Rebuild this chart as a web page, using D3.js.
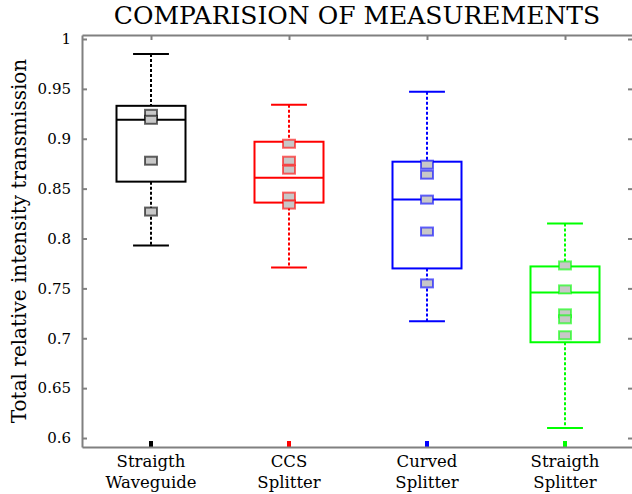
<!DOCTYPE html>
<html lang="en">
<head>
<meta charset="UTF-8">
<title>Comparision of measurements</title>
<script src="https://d3js.org/d3.v7.min.js"></script>
<style>
    body { margin: 0; background: #fff; }
    svg text { font-family: "DejaVu Serif", serif; fill: #000; }
    .axis path, .axis line { stroke: #808080; stroke-width: 2px; }
    .axis text { font-size: 15px; }
</style>
</head>
<body>
<svg width="632" height="494"></svg>
<script>
// categories and box statistics
const categories = [["Straigth", "Waveguide"], ["CCS", "Splitter"], ["Curved", "Splitter"], ["Straigth", "Splitter"]];
const colors = ["#000000", "#ff0000", "#0000ff", "#00ff00"];
const whiskerHigh = [0.985, 0.934, 0.947, 0.815];
const q3 = [0.933, 0.897, 0.877, 0.772];
const medians = [0.919, 0.861, 0.839, 0.746];
const q1 = [0.857, 0.836, 0.770, 0.696];
const whiskerLow = [0.793, 0.771, 0.717, 0.610];
const points = [
    [0.925, 0.919, 0.878, 0.827],
    [0.895, 0.878, 0.869, 0.842, 0.834],
    [0.874, 0.864, 0.839, 0.807, 0.755],
    [0.773, 0.749, 0.725, 0.719, 0.703]
];
const bottomMarks = [0.597, 0.597, 0.597, 0.597];
const yTicks = [0.6, 0.65, 0.7, 0.75, 0.8, 0.85, 0.9, 0.95, 1];

const svg = d3.select("svg");

const x = d3.scaleLinear().domain([0.5, 4.5]).range([82, 634]);
const y = d3.scaleLinear().domain([0.591, 1.004]).range([447, 35]);

const boxW = 0.5, capW = 0.26, ptW = 12, ptH = 8;
const idx = d3.range(categories.length);

const g = svg.append("g");
idx.forEach(i => {
    const cx = x(i + 1);
    const c = colors[i];
    // whiskers (dotted)
    g.append("line")
        .attr("x1", cx).attr("x2", cx)
        .attr("y1", y(whiskerHigh[i])).attr("y2", y(q3[i]))
        .attr("stroke", c).attr("stroke-width", 2).attr("stroke-dasharray", "3,2");
    g.append("line")
        .attr("x1", cx).attr("x2", cx)
        .attr("y1", y(q1[i])).attr("y2", y(whiskerLow[i]))
        .attr("stroke", c).attr("stroke-width", 2).attr("stroke-dasharray", "3,2");
    [whiskerHigh[i], whiskerLow[i]].forEach(v => {
        g.append("line")
            .attr("x1", x(i + 1 - capW / 2)).attr("x2", x(i + 1 + capW / 2))
            .attr("y1", y(v)).attr("y2", y(v))
            .attr("stroke", c).attr("stroke-width", 2);
    });
    // box
    g.append("rect")
        .attr("x", x(i + 1 - boxW / 2))
        .attr("y", y(q3[i]))
        .attr("width", x(i + 1 + boxW / 2) - x(i + 1 - boxW / 2))
        .attr("height", y(q1[i]) - y(q3[i]))
        .attr("fill", "none").attr("stroke", c).attr("stroke-width", 2);
    // median
    g.append("line")
        .attr("x1", x(i + 1 - boxW / 2)).attr("x2", x(i + 1 + boxW / 2))
        .attr("y1", y(medians[i])).attr("y2", y(medians[i]))
        .attr("stroke", c).attr("stroke-width", 2);
    // data points
    g.selectAll(null)
        .data(points[i])
      .enter().append("rect")
        .attr("x", cx - ptW / 2)
        .attr("y", d => y(d) - ptH / 2)
        .attr("width", ptW)
        .attr("height", ptH)
        .attr("fill", "#c8c8c8")
        .attr("stroke", c)
        .attr("stroke-opacity", 0.6)
        .attr("stroke-width", 2);
    // small marks at the bottom
    g.append("rect")
        .attr("x", cx - 2)
        .attr("y", y(bottomMarks[i]))
        .attr("width", 4)
        .attr("height", y.range()[0] - y(bottomMarks[i]))
        .attr("fill", c);
});

// axes with inward ticks
svg.append("g")
    .attr("class", "axis")
    .attr("transform", "translate(82,0)")
    .call(d3.axisLeft(y).tickValues(yTicks).tickSizeInner(-5).tickSizeOuter(0).tickPadding(11).tickFormat(d3.format("")));

svg.append("g")
    .attr("class", "axis")
    .attr("transform", "translate(633,0)")
    .call(d3.axisRight(y).tickValues(yTicks).tickSizeInner(-5).tickSizeOuter(0).tickFormat(""));

svg.append("g")
    .attr("class", "axis")
    .attr("transform", "translate(0,35)")
    .call(d3.axisTop(x).tickValues([1, 2, 3, 4]).tickSizeInner(-5).tickSizeOuter(0).tickFormat(""));

svg.append("g")
    .attr("class", "axis")
    .attr("transform", "translate(0,447)")
    .call(d3.axisBottom(x).tickValues([1, 2, 3, 4]).tickSizeInner(0).tickSizeOuter(0).tickFormat(""));

// two-line category labels
svg.append("g").selectAll("text")
    .data(categories)
  .enter().append("text")
    .attr("x", (d, i) => x(i + 1))
    .attr("y", 467)
    .attr("text-anchor", "middle")
    .style("font-size", "16.5px")
    .each(function(d) {
        d3.select(this).selectAll("tspan")
            .data(d)
          .enter().append("tspan")
            .attr("x", d3.select(this).attr("x"))
            .attr("dy", (t, j) => j === 0 ? 0 : 21)
            .text(t => t);
    });

// y label
svg.append("text")
    .attr("transform", "translate(26,241) rotate(-90)")
    .attr("text-anchor", "middle")
    .style("font-size", "20px")
    .text("Total relative intensity transmission");

// title
svg.append("text")
    .attr("x", 357)
    .attr("y", 24)
    .attr("text-anchor", "middle")
    .style("font-size", "25px")
    .text("COMPARISION OF MEASUREMENTS");
</script>
</body>
</html>
